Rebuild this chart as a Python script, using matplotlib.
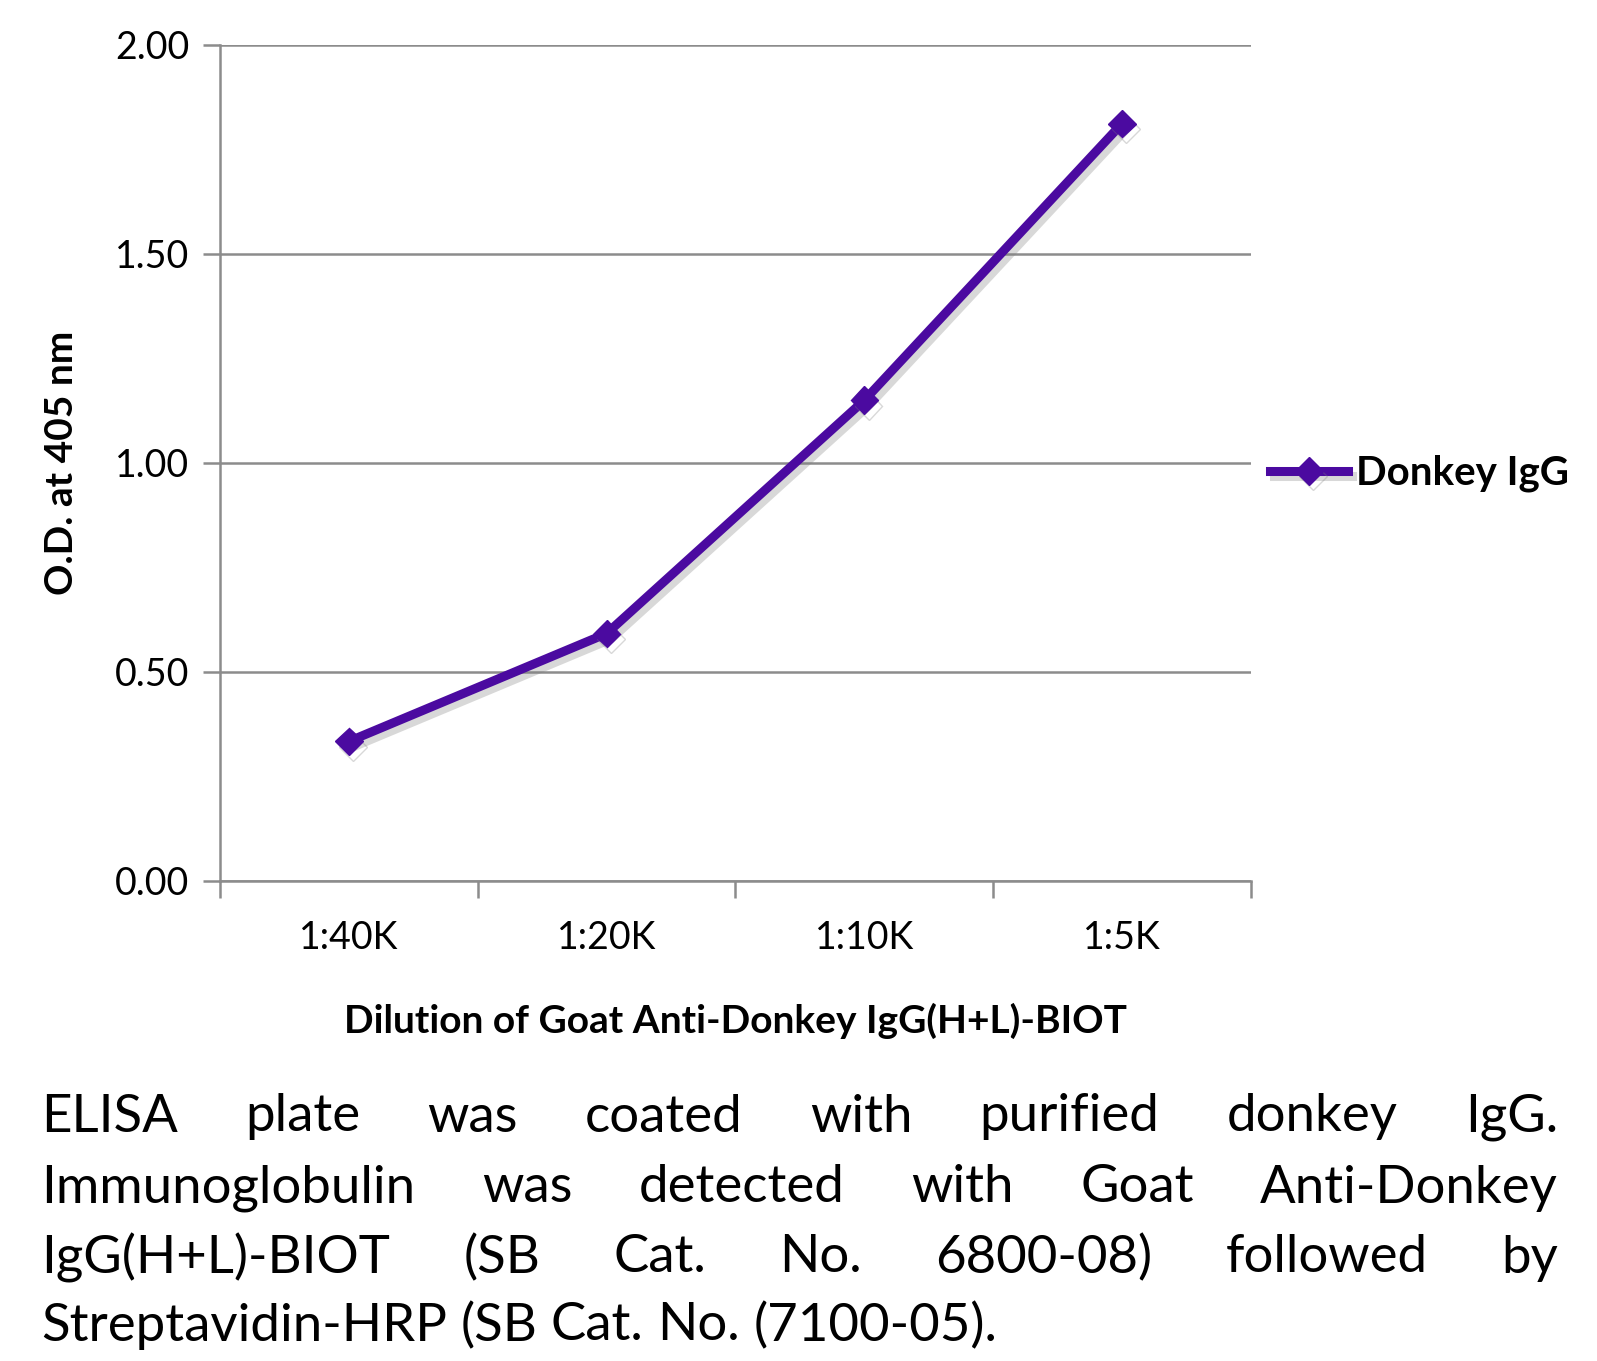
import matplotlib
matplotlib.use("Agg")
import matplotlib.pyplot as plt
import matplotlib.patheffects as pe

plt.rcParams['font.family'] = ['Lato', 'DejaVu Sans']

# ============================================
# DATA
# ============================================
dilutions = ["1:40K", "1:20K", "1:10K", "1:5K"]
od_values = [0.334, 0.592, 1.150, 1.812]
series_name = "Donkey IgG"
y_ticks = [0.0, 0.5, 1.0, 1.5, 2.0]

caption_lines = [
    "ELISA plate was coated with purified donkey IgG.",
    "Immunoglobulin was detected with Goat Anti-Donkey",
    "IgG(H+L)-BIOT (SB Cat. No. 6800-08) followed by",
    "Streptavidin-HRP (SB Cat. No. (7100-05).",
]

line_color = '#4B0AA0'
grid_color = '#8C8C8C'

fig = plt.figure(figsize=(15.97, 13.61), dpi=100)
ax = fig.add_axes([0.1378, 0.3527, 0.6455, 0.6143])

x = list(range(len(dilutions)))
shadow = [pe.SimpleLineShadow(offset=(3, -4), shadow_color='gray', alpha=0.3), pe.Normal()]
ax.plot(x, od_values, color=line_color, linewidth=6.5, marker='D',
        markersize=14, label=series_name, path_effects=shadow, zorder=3)

ax.set_xlim(-0.5, len(dilutions) - 0.5)
ax.set_ylim(0, 2.0)
ax.set_yticks(y_ticks)
ax.set_yticklabels([f"{v:.2f}" for v in y_ticks])
ax.yaxis.grid(True, color=grid_color, linewidth=1.8)
ax.set_axisbelow(True)

# category ticks between groups, labels in the middle
ax.set_xticks([i - 0.5 for i in range(len(dilutions) + 1)])
ax.set_xticklabels([])
ax.set_xticks(x, minor=True)
ax.set_xticklabels(dilutions, minor=True)
ax.tick_params(axis='x', which='minor', length=0, pad=28, labelsize=27)
ax.tick_params(axis='x', which='major', length=12, width=1.8, color=grid_color, direction='out')
ax.tick_params(axis='y', length=12, width=1.8, color=grid_color, direction='out', labelsize=27, pad=10)

for side in ['top', 'right']:
    ax.spines[side].set_visible(False)
for side in ['left', 'bottom']:
    ax.spines[side].set_color(grid_color)
    ax.spines[side].set_linewidth(1.8)

ax.set_xlabel("Dilution of Goat Anti-Donkey IgG(H+L)-BIOT", fontsize=28,
              fontweight='bold', labelpad=34)
ax.set_ylabel("O.D. at 405 nm", fontsize=28, fontweight='bold', labelpad=26)

fig.legend(loc='center left', bbox_to_anchor=(0.795, 0.652), frameon=False,
           prop={'weight': 'bold', 'size': 29}, handlelength=1.95,
           handletextpad=0.2, borderpad=0, borderaxespad=0)

# ============================================
# CAPTION (justified)
# ============================================
left_x = 41 / 1597
right_x = 1558 / 1597
baselines = [1117, 1188, 1258, 1326]
fig.canvas.draw()
renderer = fig.canvas.get_renderer()
fig_w = fig.bbox.width

for i, line in enumerate(caption_lines):
    yy = 1 - baselines[i] / 1361
    words = line.split(" ")
    texts = [fig.text(0, yy, w, fontsize=38, va='center', ha='left') for w in words]
    widths = [t.get_window_extent(renderer).width / fig_w for t in texts]
    if i < len(caption_lines) - 1:
        gap = (right_x - left_x - sum(widths)) / (len(words) - 1)
    else:
        space = fig.text(0, 0, "a a", fontsize=38)
        one = fig.text(0, 0, "aa", fontsize=38)
        gap = (space.get_window_extent(renderer).width - one.get_window_extent(renderer).width) / fig_w
        space.remove()
        one.remove()
    pos = left_x
    for t, w in zip(texts, widths):
        t.set_x(pos)
        pos += w + gap

fig.savefig("out.png", dpi=100)
